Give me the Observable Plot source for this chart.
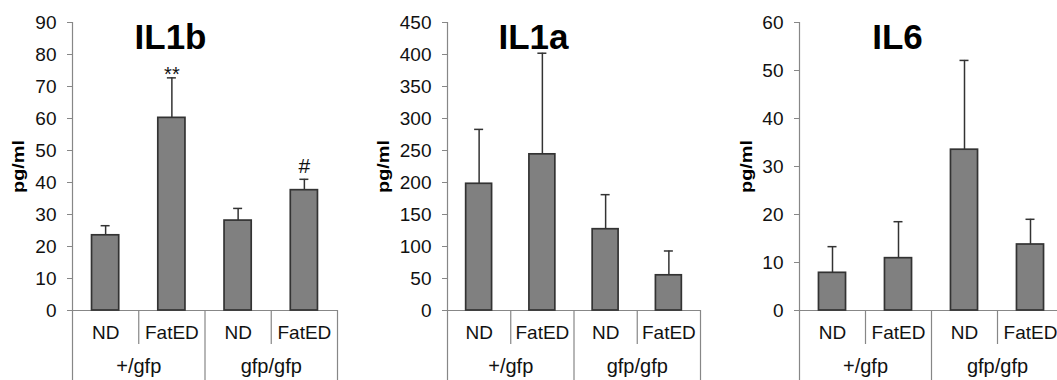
<!DOCTYPE html>
<html><head><meta charset="utf-8">
<script src="https://cdn.jsdelivr.net/npm/d3@7"></script>
<script src="https://cdn.jsdelivr.net/npm/@observablehq/plot@0.6"></script>
<style>
html,body{margin:0;padding:0;background:#fff;overflow:hidden;}
#wrap{position:relative;width:1057px;height:380px;overflow:hidden;background:#fff;}
#wrap svg{position:absolute;top:0;}
</style></head><body><div id="wrap"></div>
<script>
// ---- data ----
const genotypes = ["+/gfp", "gfp/gfp"];
const diets = ["ND", "FatED"];

const il1bMean = [23.5, 60.2, 28.1, 37.6];
const il1bSD   = [3.0, 12.5, 3.8, 3.4];
const il1bSig  = ["", "**", "", "#"];
const il1bTicks = [0, 10, 20, 30, 40, 50, 60, 70, 80, 90];

const il1aMean = [198, 244, 127, 55];
const il1aSD   = [85, 158, 54, 38];
const il1aSig  = ["", "", "", ""];
const il1aTicks = [0, 50, 100, 150, 200, 250, 300, 350, 400, 450];

const il6Mean = [7.85, 10.9, 33.5, 13.75];
const il6SD   = [5.45, 7.6, 18.6, 5.25];
const il6Sig  = ["", "", "", ""];
const il6Ticks = [0, 10, 20, 30, 40, 50, 60];

const yLabel = "pg/ml";

// ---- layout / style ----
const H = 380, MT = 22, MB = 70;
const AXIS = "#878787", BAR = "#808080", EDGE = "#333333", INK = "#111";
const FONT = "'Liberation Sans', Arial, sans-serif";

const panels = [
  {title: "IL1b", mean: il1bMean, sd: il1bSD, sig: il1bSig, ticks: il1bTicks,
   left: 0, width: 350, ml: 72, mr: 13, titleDx: 98, labelDx: -54},
  {title: "IL1a", mean: il1aMean, sd: il1aSD, sig: il1aSig, ticks: il1aTicks,
   left: 350, width: 360, ml: 97, mr: 10, titleDx: 86, labelDx: -64},
  {title: "IL6", mean: il6Mean, sd: il6SD, sig: il6Sig, ticks: il6Ticks,
   left: 700, width: 373, ml: 99, mr: 10, titleDx: 98, labelDx: -52.5}
];

const wrap = document.getElementById("wrap");
const nCat = genotypes.length * diets.length;
const bw = 0.41;

for (const p of panels) {
  const rows = genotypes.flatMap((g, gi) => diets.map((d, di) => {
    const i = gi * diets.length + di;
    return {i, genotype: g, diet: d, mean: p.mean[i], sd: p.sd[i], sig: p.sig[i]};
  }));
  const ymax = p.ticks[p.ticks.length - 1];
  const bounds = d3.range(0, nCat + 1);
  const groupBounds = bounds.filter(b => b % diets.length === 0);
  const innerBounds = bounds.filter(b => b % diets.length !== 0);
  const plotH = H - MT - MB;

  const chart = Plot.plot({
    width: p.width, height: H,
    marginLeft: p.ml, marginRight: p.mr, marginTop: MT, marginBottom: MB,
    style: {fontFamily: FONT, fontSize: "19px", background: "transparent", color: INK, overflow: "visible"},
    x: {type: "linear", domain: [0, nCat], axis: null},
    y: {domain: [0, ymax], label: null},
    marks: [
      Plot.axisY(p.ticks, {tickSize: 5, tickPadding: 11, stroke: AXIS, fill: INK, label: null, fontSize: 19, tickFormat: d => String(d)}),
      Plot.ruleX([0], {y1: 0, y2: ymax, stroke: AXIS, strokeWidth: 1.2}),
      Plot.ruleY([0], {x1: 0, x2: nCat, stroke: AXIS, strokeWidth: 1.2}),
      Plot.ruleX(innerBounds, {x: d => d, insetTop: plotH, insetBottom: -34, stroke: AXIS, strokeWidth: 1.2}),
      Plot.ruleX(groupBounds, {x: d => d, insetTop: plotH, insetBottom: -MB, stroke: AXIS, strokeWidth: 1.2}),
      Plot.rectY(rows, {x1: d => d.i + 0.5 - bw / 2, x2: d => d.i + 0.5 + bw / 2, y1: 0, y2: "mean",
        fill: BAR, stroke: EDGE, strokeWidth: 1.7}),
      Plot.ruleX(rows, {x: d => d.i + 0.5, y1: "mean", y2: d => d.mean + d.sd, stroke: EDGE, strokeWidth: 1.5}),
      Plot.ruleY(rows, {y: d => d.mean + d.sd, x1: d => d.i + 0.5, x2: d => d.i + 0.5,
        insetLeft: -4.5, insetRight: -4.5, stroke: EDGE, strokeWidth: 1.5}),
      Plot.text(rows.filter(d => d.sig.includes("*")), {x: d => d.i + 0.5, y: d => d.mean + d.sd, text: "sig",
        lineAnchor: "bottom", dy: 3, fontSize: 20, fill: INK}),
      Plot.text(rows.filter(d => d.sig && !d.sig.includes("*")), {x: d => d.i + 0.5, y: d => d.mean + d.sd, text: "sig",
        lineAnchor: "bottom", dy: -6, fontSize: 21, fill: INK}),
      Plot.text(rows, {x: d => d.i + 0.5, text: "diet", frameAnchor: "bottom", dy: 22.5, lineAnchor: "middle", fontSize: 19, fill: INK}),
      Plot.text(genotypes, {x: (d, gi) => gi * diets.length + diets.length / 2, text: d => d,
        frameAnchor: "bottom", dy: 62, lineAnchor: "bottom", fontSize: 20, fill: INK}),
      Plot.text([p.title], {text: d => d, frameAnchor: "top-left", dx: p.titleDx, dy: 26, lineAnchor: "bottom",
        textAnchor: "middle", fontSize: 35, fontWeight: "bold", fill: "#000"}),
      Plot.text([yLabel], {text: d => d, frameAnchor: "left", dx: p.labelDx, rotate: -90, lineAnchor: "middle",
        textAnchor: "middle", fontSize: 16, fontWeight: "bold", fill: "#000"})
    ]
  });
  chart.style.left = p.left + "px";
  d3.select(chart).selectAll("text")
    .filter(function () { return this.textContent === yLabel; })
    .attr("textLength", 53).attr("lengthAdjust", "spacingAndGlyphs");
  wrap.appendChild(chart);
}
</script></body></html>
